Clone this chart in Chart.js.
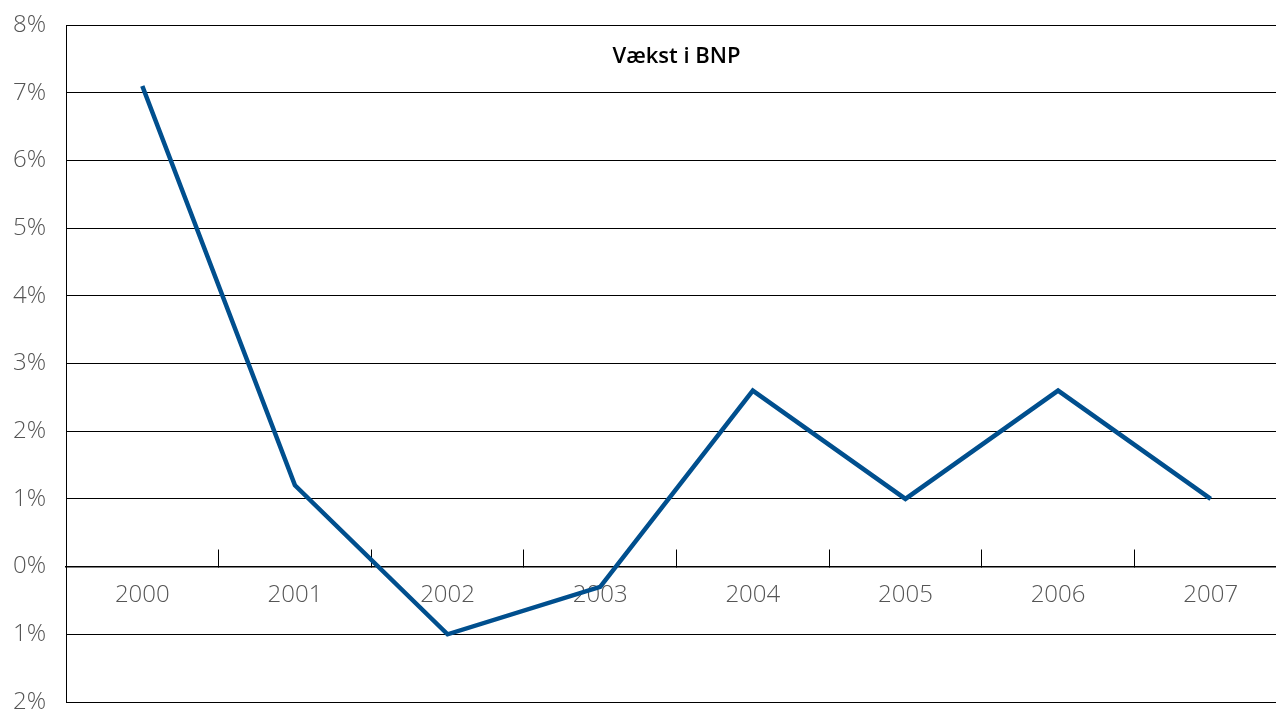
<!DOCTYPE html>
<html>
<head>
<meta charset="utf-8">
<script src="https://cdn.jsdelivr.net/npm/chart.js@4"></script>
<style>
  html, body { margin: 0; padding: 0; background: #fff; overflow: hidden; }
  #wrap { width: 1276px; height: 711px; overflow: hidden; }
  #bnp { display: block; width: 1287px; height: 711px; }
</style>
</head>
<body>
<div id="wrap"><canvas id="bnp" width="1287" height="711"></canvas></div>
<script>
// data
var years = ['2000', '2001', '2002', '2003', '2004', '2005', '2006', '2007'];
var growth = [7.1, 1.2, -1.0, -0.3, 2.6, 1.0, 2.6, 1.0];
var yTicks = [-2, -1, 0, 1, 2, 3, 4, 5, 6, 7, 8];
var chartTitle = 'Vækst i BNP';

var labelFont = { family: "'Open Sans', 'DejaVu Sans', sans-serif", size: 24, weight: 300 };

// title sits inside the plot area
var innerTitle = {
    id: 'innerTitle',
    afterDraw: function (chart) {
        var a = chart.chartArea, c = chart.ctx;
        c.save();
        c.font = "600 22px 'Open Sans', 'DejaVu Sans', sans-serif";
        c.fillStyle = '#000';
        c.textAlign = 'center';
        c.textBaseline = 'middle';
        c.fillText(chartTitle, (a.left + a.right) / 2, a.top + 32);
        c.restore();
    }
};

var ctx = document.getElementById('bnp').getContext('2d');
var chart = new Chart(ctx, {
    type: 'line',
    data: {
        labels: years,
        datasets: [{
            label: chartTitle,
            data: growth,
            borderColor: '#004f8e',
            borderWidth: 4.5,
            pointRadius: 0,
            tension: 0,
            fill: false
        }]
    },
    options: {
        responsive: false,
        maintainAspectRatio: false,
        animation: false,
        layout: { padding: { top: 25, bottom: 9, left: 0, right: 0 } },
        plugins: { legend: { display: false }, tooltip: { enabled: false } },
        scales: {
            x: {
                position: { y: 0 },
                offset: true,
                afterFit: function (s) { s.height = 0; s.paddingLeft = 0; s.paddingRight = 0; },
                grid: { display: true, offset: true, drawOnChartArea: false, drawTicks: true, tickLength: -18, color: '#000', lineWidth: 1 },
                border: { display: true, color: '#000', width: 1.5 },
                ticks: { color: '#555', font: labelFont, padding: 32, maxRotation: 0 }
            },
            y: {
                min: -2,
                max: 8,
                // fixed width, and no extra room for the end labels
                afterFit: function (s) { s.width = 66; s.paddingTop = 0; s.paddingBottom = 0; },
                afterBuildTicks: function (s) { s.ticks = yTicks.map(function (v) { return { value: v }; }); },
                grid: { color: '#000', lineWidth: 1, drawTicks: false },
                border: { display: true, color: '#000', width: 1 },
                ticks: {
                    color: '#555',
                    font: labelFont,
                    padding: 20,
                    callback: function (v) { return Math.abs(v) + '%'; }
                }
            }
        }
    },
    plugins: [innerTitle]
});
</script>
</body>
</html>
